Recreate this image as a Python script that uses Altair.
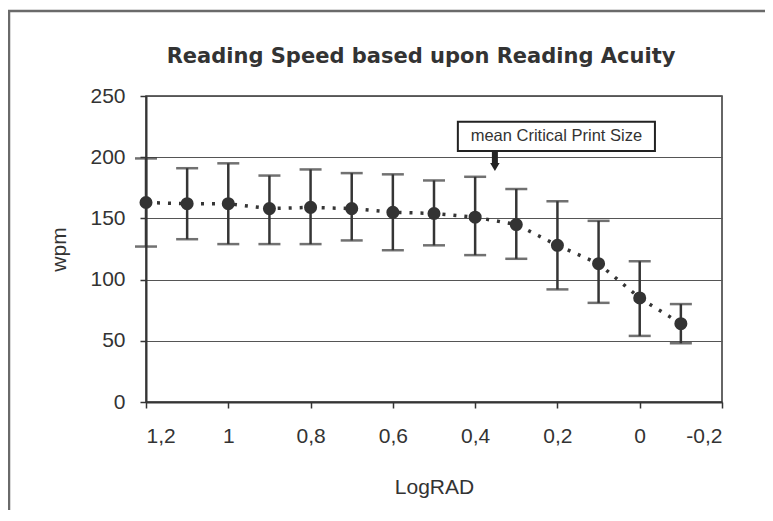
import altair as alt
import pandas as pd

# Data
lograd = [1.2, 1.1, 1.0, 0.9, 0.8, 0.7, 0.6, 0.5, 0.4, 0.3, 0.2, 0.1, 0.0, -0.1]
wpm_mean = [163, 162, 162, 158, 159, 158, 155, 154, 151, 145, 128, 113, 85, 64]
wpm_upper = [199, 191, 195, 185, 190, 187, 186, 181, 184, 174, 164, 148, 115, 80]
wpm_lower = [127, 133, 129, 129, 129, 132, 124, 128, 120, 117, 92, 81, 54, 48]

x_ticks = [1.2, 1.0, 0.8, 0.6, 0.4, 0.2, 0.0, -0.2]
y_ticks = [0, 50, 100, 150, 200, 250]

title_text = "Reading Speed based upon Reading Acuity"
annot_text = "mean Critical Print Size"
annot_box = {"x": 0.442, "x2": -0.037, "y": 229, "y2": 205}
annot_arrow = {"x": 0.352, "y": 205, "y2": 194, "tip": 192}
annot_label = {"x": 0.2025, "y": 217}

df = pd.DataFrame({"x": lograd, "m": wpm_mean, "hi": wpm_upper, "lo": wpm_lower})

DARK = "#353535"
xscale = alt.Scale(domain=[-0.2, 1.2], reverse=True, nice=False, zero=False)
yscale = alt.Scale(domain=[0, 250], nice=False)

xenc = alt.X("x:Q", scale=xscale, title="LogRAD",
             axis=alt.Axis(values=x_ticks,
                           labelExpr="replace(replace(format(datum.value, '.1~f'), '.', ','), '\u2212', '-')",
                           grid=False, tickSize=6, labelPadding=17, titlePadding=30,
                           domainColor=DARK, tickColor=DARK, domainWidth=2, tickWidth=1.5))
yenc = alt.Y("m:Q", scale=yscale, title="wpm",
             axis=alt.Axis(values=y_ticks, grid=True, gridColor="#555", gridWidth=1.2,
                           tickSize=6, labelPadding=15, titlePadding=20,
                           domainColor=DARK, tickColor=DARK, domainWidth=2, tickWidth=1.5))

base = alt.Chart(df)

one = pd.DataFrame({"t": [title_text]})
frame = alt.Chart(one).mark_rect(
    fill=None, stroke="#6a6a6a", strokeWidth=2.5
).encode(x=alt.value(-137), x2=alt.value(640), y=alt.value(-85), y2=alt.value(419))

title = alt.Chart(one).mark_text(font="DejaVu Sans", fontSize=21, fontWeight="bold",
                                 color="#333", baseline="middle", align="center").encode(
    x=alt.value(275), y=alt.value(-39), text="t:N")

line = base.mark_line(color=DARK, strokeWidth=3.5, strokeDash=[3, 8]).encode(x=xenc, y=yenc)

bars = base.mark_rule(color=DARK, strokeWidth=2.5).encode(
    x=alt.X("x:Q", scale=xscale), y=alt.Y("lo:Q", scale=yscale), y2="hi:Q")
cap_hi = base.mark_tick(color=DARK, orient="horizontal", size=22, thickness=2.5).encode(
    x=alt.X("x:Q", scale=xscale), y=alt.Y("hi:Q", scale=yscale))
cap_lo = base.mark_tick(color=DARK, orient="horizontal", size=22, thickness=2.5).encode(
    x=alt.X("x:Q", scale=xscale), y=alt.Y("lo:Q", scale=yscale))

pts = base.mark_circle(color="#333333", size=170, opacity=1).encode(
    x=alt.X("x:Q", scale=xscale), y=alt.Y("m:Q", scale=yscale))

adf = pd.DataFrame({"bx": [annot_box["x"]], "bx2": [annot_box["x2"]],
                    "by": [annot_box["y"]], "by2": [annot_box["y2"]],
                    "ax": [annot_arrow["x"]], "ay": [annot_arrow["y"]], "ay2": [annot_arrow["y2"]],
                    "tip": [annot_arrow["tip"]],
                    "tx": [annot_label["x"]], "ty": [annot_label["y"]], "t": [annot_text]})
abase = alt.Chart(adf)
box = abase.mark_rect(fill="white", stroke="#222", strokeWidth=2).encode(
    x=alt.X("bx:Q", scale=xscale), x2="bx2:Q", y=alt.Y("by:Q", scale=yscale), y2="by2:Q")
arrow = abase.mark_rule(color="#222", strokeWidth=6).encode(
    x=alt.X("ax:Q", scale=xscale), y=alt.Y("ay:Q", scale=yscale), y2="ay2:Q")
head = abase.mark_point(shape="triangle-down", filled=True, color="#222", size=90, opacity=1).encode(
    x=alt.X("ax:Q", scale=xscale), y=alt.Y("tip:Q", scale=yscale))
label = abase.mark_text(font="Liberation Sans", fontSize=16.5, color="#333").encode(
    x=alt.X("tx:Q", scale=xscale), y=alt.Y("ty:Q", scale=yscale), text="t:N")

chart = alt.layer(frame, title, line, bars, cap_hi, cap_lo, pts, box, arrow, head, label).properties(
    width=576, height=306,
    padding={"left": 138, "top": 88, "right": 43, "bottom": 108},
    autosize=alt.AutoSizeParams(type="none"),
    background="white",
).configure_view(stroke=DARK, strokeWidth=1.5).configure_axis(
    labelFont="Liberation Sans", labelFontSize=21, labelColor="#333",
    titleFont="Liberation Sans", titleFontSize=21, titleColor="#333", titleFontWeight="normal"
)

chart.save("out.html", embed_options={"renderer": "svg", "actions": False})
